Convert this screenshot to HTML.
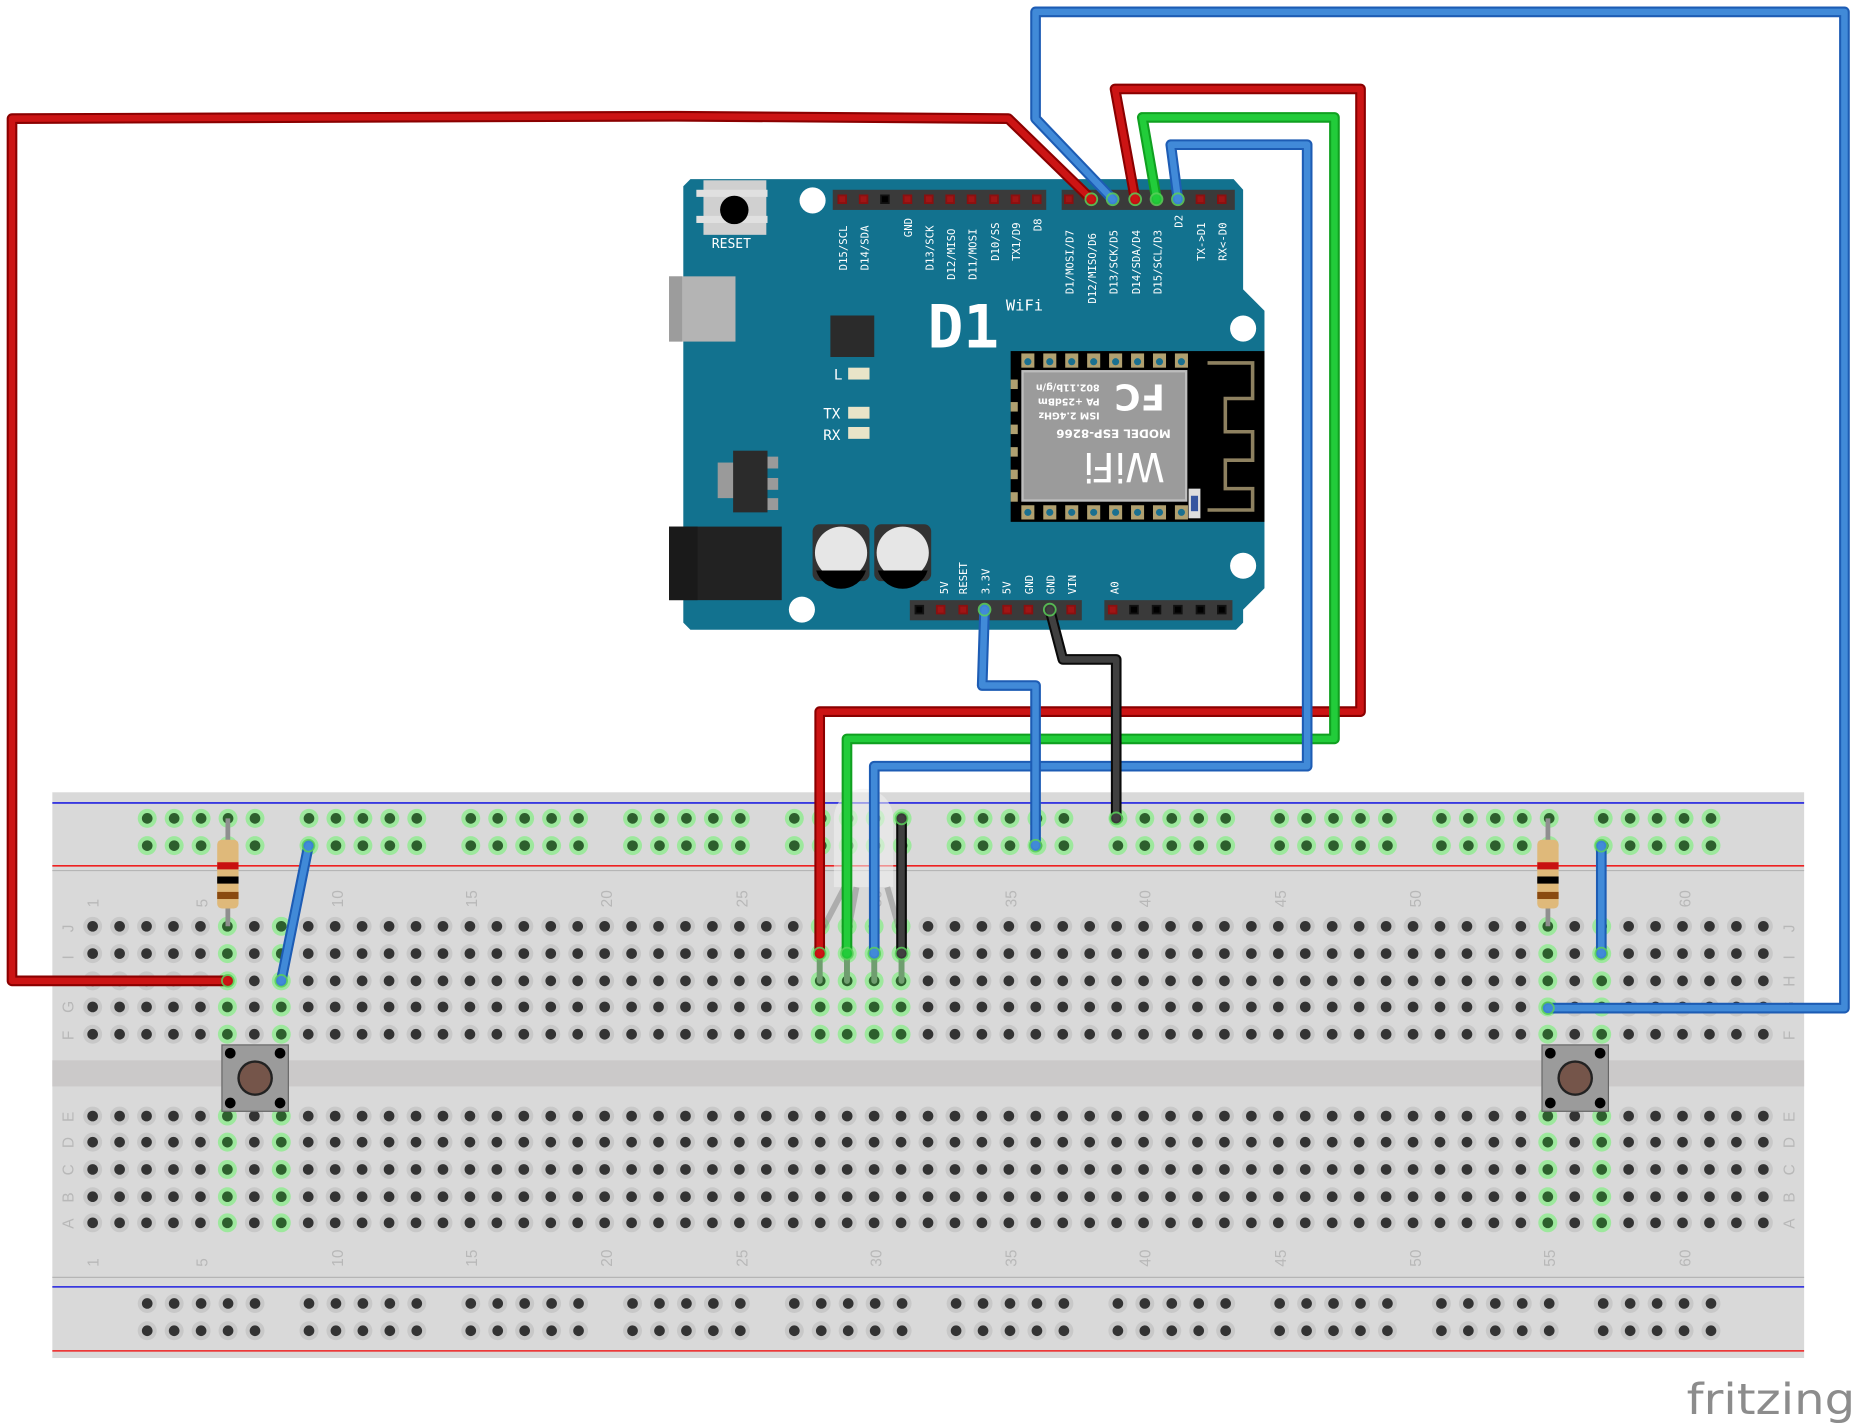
<!DOCTYPE html>
<html><head><meta charset="utf-8">
<style>
html,body{margin:0;padding:0;background:#fff;}
svg{display:block;}
.lab{font-family:"DejaVu Sans Mono","Liberation Mono",monospace;font-size:9px;fill:#fff;}
.bbn{font-family:"Liberation Sans",sans-serif;font-size:13px;fill:#b8b8b8;}
</style></head>
<body>
<svg id="s" width="1860" height="1428" viewBox="0 0 1568 1204" xmlns="http://www.w3.org/2000/svg">
<rect x="44" y="668" width="1477" height="477" fill="#d9d9d9"/>
<rect x="44" y="894" width="1477" height="22" fill="#cbc9c9"/>
<line x1="44" y1="677" x2="1521" y2="677" stroke="#2020e0" stroke-width="1.3"/>
<line x1="44" y1="730" x2="1521" y2="730" stroke="#ee2020" stroke-width="1.3"/>
<line x1="44" y1="734" x2="1521" y2="734" stroke="#b5b5b5" stroke-width="1"/>
<line x1="44" y1="1077" x2="1521" y2="1077" stroke="#b5b5b5" stroke-width="1"/>
<line x1="44" y1="1085" x2="1521" y2="1085" stroke="#2020e0" stroke-width="1.3"/>
<line x1="44" y1="1139" x2="1521" y2="1139" stroke="#ee2020" stroke-width="1.3"/>
<g id="holes"></g>
<g class="bbn">
<text transform="translate(83,765) rotate(-90)">1</text>
<text transform="translate(175,765) rotate(-90)">5</text>
<text transform="translate(289,765) rotate(-90)">10</text>
<text transform="translate(402,765) rotate(-90)">15</text>
<text transform="translate(516,765) rotate(-90)">20</text>
<text transform="translate(630,765) rotate(-90)">25</text>
<text transform="translate(743,765) rotate(-90)">30</text>
<text transform="translate(857,765) rotate(-90)">35</text>
<text transform="translate(970,765) rotate(-90)">40</text>
<text transform="translate(1084,765) rotate(-90)">45</text>
<text transform="translate(1198,765) rotate(-90)">50</text>
<text transform="translate(1311,765) rotate(-90)">55</text>
<text transform="translate(1425,765) rotate(-90)">60</text>
<text transform="translate(83,1068) rotate(-90)">1</text>
<text transform="translate(175,1068) rotate(-90)">5</text>
<text transform="translate(289,1068) rotate(-90)">10</text>
<text transform="translate(402,1068) rotate(-90)">15</text>
<text transform="translate(516,1068) rotate(-90)">20</text>
<text transform="translate(630,1068) rotate(-90)">25</text>
<text transform="translate(743,1068) rotate(-90)">30</text>
<text transform="translate(857,1068) rotate(-90)">35</text>
<text transform="translate(970,1068) rotate(-90)">40</text>
<text transform="translate(1084,1068) rotate(-90)">45</text>
<text transform="translate(1198,1068) rotate(-90)">50</text>
<text transform="translate(1311,1068) rotate(-90)">55</text>
<text transform="translate(1425,1068) rotate(-90)">60</text>
<text transform="translate(62,786) rotate(-90)">J</text><text transform="translate(62,809) rotate(-90)">I</text><text transform="translate(62,832) rotate(-90)">H</text><text transform="translate(62,854) rotate(-90)">G</text><text transform="translate(62,877) rotate(-90)">F</text>
<text transform="translate(62,946) rotate(-90)">E</text><text transform="translate(62,968) rotate(-90)">D</text><text transform="translate(62,991) rotate(-90)">C</text><text transform="translate(62,1014) rotate(-90)">B</text><text transform="translate(62,1036) rotate(-90)">A</text>
<text transform="translate(1513,786) rotate(-90)">J</text><text transform="translate(1513,809) rotate(-90)">I</text><text transform="translate(1513,832) rotate(-90)">H</text><text transform="translate(1513,854) rotate(-90)">G</text><text transform="translate(1513,877) rotate(-90)">F</text>
<text transform="translate(1513,946) rotate(-90)">E</text><text transform="translate(1513,968) rotate(-90)">D</text><text transform="translate(1513,991) rotate(-90)">C</text><text transform="translate(1513,1014) rotate(-90)">B</text><text transform="translate(1513,1036) rotate(-90)">A</text>
</g>

<polygon points="582,151 1040,151 1048,160 1048,244 1066,262 1066,496 1048,514 1048,525 1042,531 582,531 576,525 576,157" fill="#12728f"/>
<circle cx="685" cy="169" r="11" fill="#fff"/><circle cx="1048" cy="277" r="11" fill="#fff"/><circle cx="1048" cy="477" r="11" fill="#fff"/><circle cx="676" cy="514" r="11" fill="#fff"/>
<rect x="593" y="152" width="53" height="46" fill="#d0d0d0"/>
<rect x="587" y="160" width="60" height="6" fill="#e0e0e0"/><rect x="587" y="182" width="60" height="6" fill="#e0e0e0"/>
<circle cx="619" cy="177" r="12" fill="#000"/>
<text x="600" y="209" class="lab" style="font-size:11px">RESET</text>
<rect x="564" y="233" width="56" height="55" fill="#b4b4b4"/><rect x="564" y="233" width="11" height="55" fill="#9c9c9c"/>
<rect x="700" y="266" width="37" height="35" fill="#2b2b2b"/>
<text x="703" y="320" class="lab" style="font-size:12px">L</text><rect x="715" y="310" width="18" height="10" fill="#e8e4c8"/>
<text x="694" y="353" class="lab" style="font-size:12px">TX</text><rect x="715" y="343" width="18" height="10" fill="#e8e4c8"/>
<text x="694" y="371" class="lab" style="font-size:12px">RX</text><rect x="715" y="360" width="18" height="10" fill="#e8e4c8"/>
<rect x="605" y="390" width="16" height="30" fill="#9a9a9a"/><rect x="642" y="385" width="14" height="10" fill="#9a9a9a"/><rect x="642" y="403" width="14" height="10" fill="#9a9a9a"/><rect x="642" y="420" width="14" height="10" fill="#9a9a9a"/>
<rect x="618" y="380" width="29" height="52" fill="#2b2b2b"/>
<rect x="564" y="444" width="95" height="62" fill="#222"/><rect x="564" y="444" width="24" height="62" fill="#1a1a1a"/>
<rect x="685" y="442" width="48" height="48" rx="6" fill="#333"/><ellipse cx="709" cy="466" rx="22" ry="22" fill="#e6e6e6"/><path d="M688,481 L730,481 A22,22 0 0 1 688,481Z" fill="#000"/>
<rect x="737" y="442" width="48" height="48" rx="6" fill="#333"/><ellipse cx="761" cy="466" rx="22" ry="22" fill="#e6e6e6"/><path d="M740,481 L782,481 A22,22 0 0 1 740,481Z" fill="#000"/>
<text x="782" y="293" style="font-family:'DejaVu Sans Mono',monospace;font-size:50px;font-weight:bold;fill:#fff">D1</text>
<text x="848" y="262" class="lab" style="font-size:13px">WiFi</text>
<rect x="702" y="160" width="180" height="17" fill="#3a3a3a"/>
<rect x="895" y="160" width="146" height="17" fill="#3a3a3a"/>
<rect x="767" y="506" width="145" height="17" fill="#3a3a3a"/>
<rect x="931" y="506" width="108" height="17" fill="#3a3a3a"/>
<g id="pins"></g>
<g class="lab">
<text transform="translate(714,228) rotate(-90)">D15/SCL</text>
<text transform="translate(732,228) rotate(-90)">D14/SDA</text>
<text transform="translate(769,200) rotate(-90)">GND</text>
<text transform="translate(787,228) rotate(-90)">D13/SCK</text>
<text transform="translate(805,236) rotate(-90)">D12/MISO</text>
<text transform="translate(823,236) rotate(-90)">D11/MOSI</text>
<text transform="translate(842,220) rotate(-90)">D10/SS</text>
<text transform="translate(860,220) rotate(-90)">TX1/D9</text>
<text transform="translate(878,195) rotate(-90)">D8</text>
<text transform="translate(905,248) rotate(-90)">D1/MOSI/D7</text>
<text transform="translate(924,256) rotate(-90)">D12/MISO/D6</text>
<text transform="translate(942,248) rotate(-90)">D13/SCK/D5</text>
<text transform="translate(961,248) rotate(-90)">D14/SDA/D4</text>
<text transform="translate(979,248) rotate(-90)">D15/SCL/D3</text>
<text transform="translate(997,192) rotate(-90)">D2</text>
<text transform="translate(1016,220) rotate(-90)">TX-&gt;D1</text>
<text transform="translate(1034,220) rotate(-90)">RX&lt;-D0</text>
<text transform="translate(799,501) rotate(-90)">5V</text>
<text transform="translate(815,501) rotate(-90)">RESET</text>
<text transform="translate(834,501) rotate(-90)">3.3V</text>
<text transform="translate(852,501) rotate(-90)">5V</text>
<text transform="translate(871,501) rotate(-90)">GND</text>
<text transform="translate(889,501) rotate(-90)">GND</text>
<text transform="translate(907,501) rotate(-90)">VIN</text>
<text transform="translate(943,501) rotate(-90)">A0</text>
</g>
<rect x="852" y="296" width="214" height="144" fill="#000"/>
<g id="pads"></g>
<rect x="862" y="313" width="138" height="109" fill="#9b9b9b" stroke="#bdbdbd" stroke-width="2"/>
<g transform="rotate(180 931 367)" style="font-family:'DejaVu Sans',sans-serif;font-weight:bold;fill:#fff">
<text x="880" y="352" style="font-size:34px;font-weight:normal">WiFi</text>
<text x="875" y="372" style="font-size:10px">MODEL  ESP-8266</text>
<text x="935" y="386" style="font-size:8px">ISM 2.4GHz</text>
<text x="935" y="398" style="font-size:8px">PA +25dBm</text>
<text x="935" y="410" style="font-size:8px">802.11b/g/n</text>
<text x="880" y="410" style="font-size:30px">FC</text>
</g>
<path d="M1018,306 H1056 V336 H1033 V364 H1056 V388 H1033 V412 H1056 V430 H1018" fill="none" stroke="#8e8160" stroke-width="3"/>
<rect x="1002" y="412" width="10" height="25" fill="#ddd"/><rect x="1004" y="418" width="6" height="13" fill="#3555a0"/>

<g opacity="0.55">
<path d="M703,690 A25,25 0 0 1 753,690 L753,748 L703,748 Z" fill="#f2f2f2"/>
<path d="M712,748 L690,790 M722,748 L714,790 M738,748 L737,790 M748,748 L760,790" stroke="#8a8a8a" stroke-width="5"/>
</g>
<g stroke="#6f9e6f" stroke-width="5" stroke-linecap="round">
<line x1="691" y1="804" x2="691" y2="827"/><line x1="714" y1="804" x2="714" y2="827"/><line x1="737" y1="804" x2="737" y2="827"/><line x1="760" y1="804" x2="760" y2="827"/>
</g>
<g id="res"></g>
<g id="btn"></g>
<g id="wires" fill="none" stroke-linejoin="round" stroke-linecap="round"></g>

<text x="1422" y="1192" textLength="142" lengthAdjust="spacingAndGlyphs" style="font-family:'DejaVu Sans','Liberation Sans',sans-serif;font-size:36px;fill:#8c8c8c">fritzing</text>
</svg>
<script>
var NS="http://www.w3.org/2000/svg";
function el(p,t,a){var e=document.createElementNS(NS,t);for(var k in a)e.setAttribute(k,a[k]);p.appendChild(e);return e;}
var H=document.getElementById('holes');
function cx(n){return 78+(n-1)*22.72;}
var green={6:1,8:1,28:2,29:2,30:2,31:2,55:1,57:1};
var rowsT=[781,804,827,849,872],rowsB=[941,963,986,1009,1031];
function hole(x,y,g){
 el(H,'circle',{cx:x,cy:y,r:8,fill:g?'#9de89d':'#c8c8c8'});
 el(H,'circle',{cx:x,cy:y,r:4.5,fill:g?'#2d5f2d':'#333'});
}
for(var n=1;n<=63;n++){
 var g=green[n];
 rowsT.forEach(function(y){hole(cx(n),y,!!g);});
 rowsB.forEach(function(y){hole(cx(n),y,g===1);});
}
for(var k=0;k<10;k++)for(var j=0;j<5;j++){
 var x=124+k*136.4+j*22.72;
 hole(x,690,true);hole(x,713,true);hole(x,1099,false);hole(x,1122,false);
}
var P=document.getElementById('pins');
function pins(xs,y,c){xs.forEach(function(x,i){el(P,'rect',{x:x-4,y:y-4,width:8,height:8,fill:c[i]||'#8a1010'});el(P,'rect',{x:x-2.5,y:y-2.5,width:5,height:5,fill:c[i]==='#111'?'#000':'#a01515'});});}
pins([710,728,746,765,783,801,819,838,856,874],168,[0,0,'#111']);
pins([901,920,938,957,975,993,1012,1030],168,[]);
pins([775,793,812,830,849,867,885,903],514,['#111']);
pins([938,956,975,993,1012,1030],514,[0,'#111','#111','#111','#111','#111']);
var PD=document.getElementById('pads');
for(var i=0;i<8;i++){var x=861+i*18.5;
 el(PD,'rect',{x:x,y:298,width:11,height:12,fill:'#b0a070'});el(PD,'circle',{cx:x+5.5,cy:305,r:3,fill:'#1a7090'});
 el(PD,'rect',{x:x,y:426,width:11,height:12,fill:'#b0a070'});el(PD,'circle',{cx:x+5.5,cy:432,r:3,fill:'#1a7090'});}
for(var i=0;i<6;i++)el(PD,'rect',{x:852,y:320+i*19,width:6,height:8,fill:'#b0a070'});
var R=document.getElementById('res');
[192,1305].forEach(function(x){
 el(R,'line',{x1:x,y1:690,x2:x,y2:781,stroke:'#8f8f8f','stroke-width':4});
 el(R,'rect',{x:x-9,y:708,width:18,height:58,rx:4,fill:'#dfb97a'});
 el(R,'rect',{x:x-9,y:727,width:18,height:6,fill:'#c81010'});
 el(R,'rect',{x:x-9,y:739,width:18,height:6,fill:'#000'});
 el(R,'rect',{x:x-9,y:752,width:18,height:6,fill:'#8a4a10'});
});
var B=document.getElementById('btn');
[187,1300].forEach(function(x){
 el(B,'rect',{x:x,y:881,width:56,height:56,fill:'#9b9b9b',stroke:'#666','stroke-width':1});
 el(B,'circle',{cx:x+28,cy:909,r:15,fill:'#222'});el(B,'circle',{cx:x+28,cy:909,r:13,fill:'#75554a'});
 [[7,7],[49,7],[7,49],[49,49]].forEach(function(p){el(B,'circle',{cx:x+p[0],cy:881+p[1],r:4.5,fill:'#000'});});
});
var W=document.getElementById('wires');
function wire(pts,c,d){var s=pts.map(function(p){return p.join(',');}).join(' ');
 el(W,'polyline',{points:s,stroke:d,'stroke-width':9});
 el(W,'polyline',{points:s,stroke:c,'stroke-width':5.5});
 [pts[0],pts[pts.length-1]].forEach(function(p){el(W,'circle',{cx:p[0],cy:p[1],r:5,fill:c,stroke:'#5ad05a','stroke-width':1.5,opacity:0.85});});
}
var red='#cc1414',dred='#8a0000',blu='#418ad8',dblu='#1d5cb4',grn='#22cc3a',dgrn='#10a020',blk='#404040',dblk='#0a0a0a';
wire([[920,168],[850,100],[570,98],[10,100],[10,827],[192,827]],red,dred);
wire([[938,168],[873,100],[873,10],[1555,10],[1555,850],[1305,850]],blu,dblu);
wire([[957,168],[940,75],[1147,75],[1147,600],[691,600],[691,804]],red,dred);
wire([[975,168],[963,99],[1125,99],[1125,623],[714,623],[714,804]],grn,dgrn);
wire([[993,168],[987,122],[1102,122],[1102,646],[737,646],[737,804]],blu,dblu);
wire([[830,514],[828,578],[873,578],[873,713]],blu,dblu);
wire([[885,514],[896,556],[941,556],[941,690]],blk,dblk);
wire([[760,690],[760,804]],blk,dblk);
wire([[260,713],[237,827]],blu,dblu);
wire([[1350,713],[1350,804]],blu,dblu);
</script>
</body></html>
